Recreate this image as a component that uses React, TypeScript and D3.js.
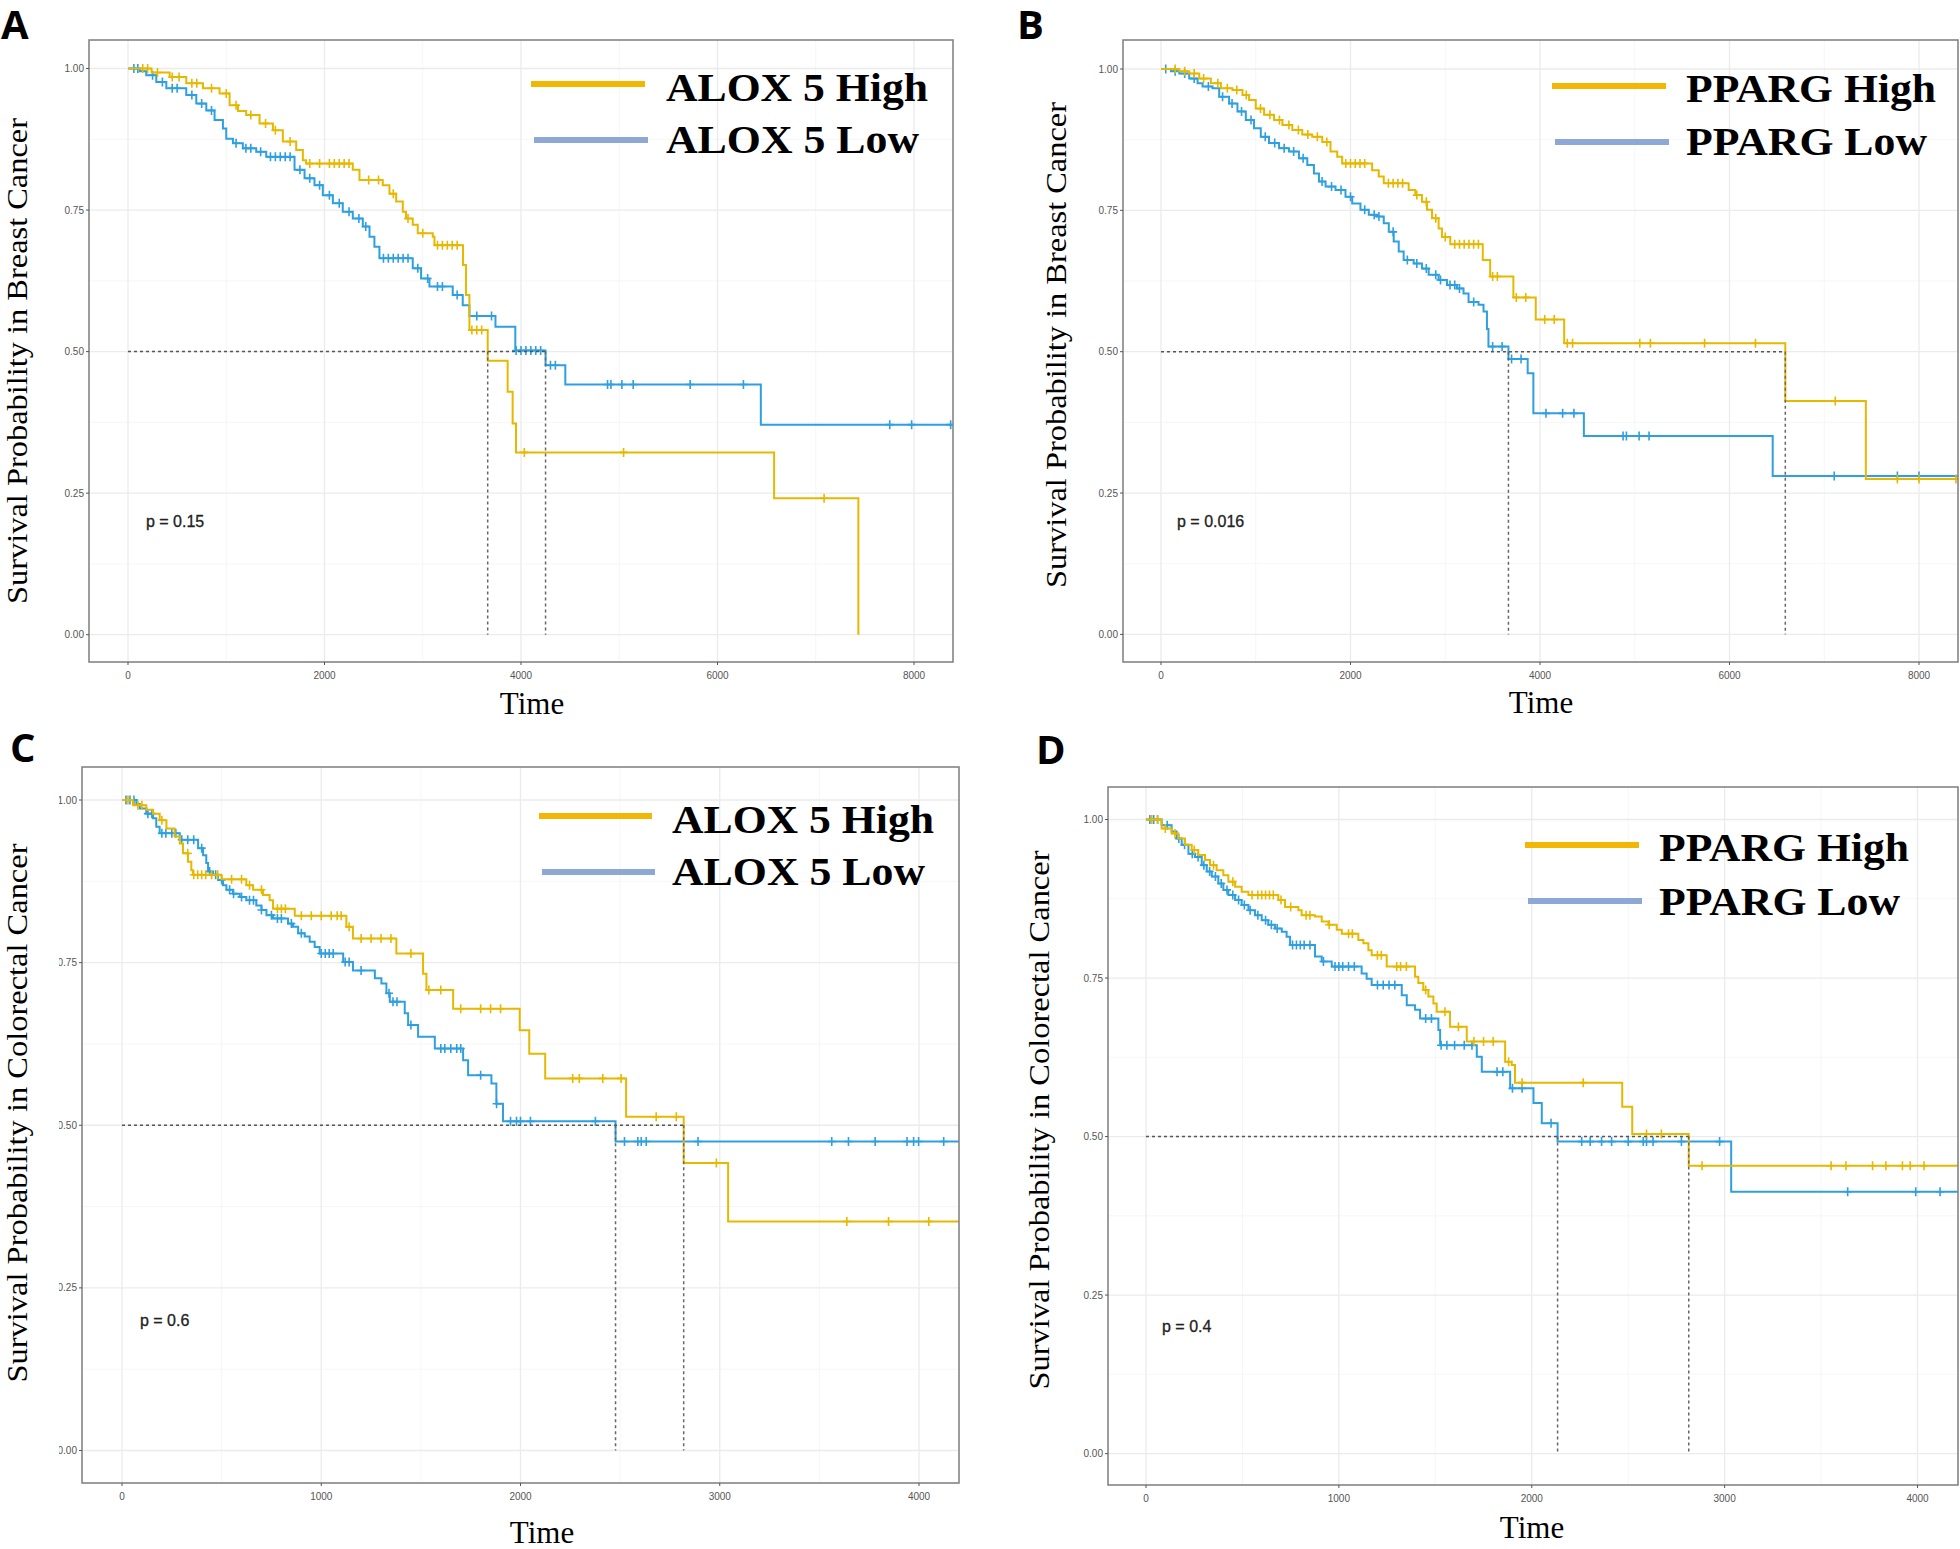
import React from 'react';
import * as d3 from 'd3';

type Step = [number, number];

// ---------- axis ticks ----------
const survTicks = [0, 0.25, 0.5, 0.75, 1];
const survTickLabels = ['0.00', '0.25', '0.50', '0.75', '1.00'];
const survMinor = [0.125, 0.375, 0.625, 0.875];
const breastTimeTicks = [0, 2000, 4000, 6000, 8000];
const breastTimeMinor = [1000, 3000, 5000, 7000];
const crcTimeTicks = [0, 1000, 2000, 3000, 4000];
const crcTimeMinor = [500, 1500, 2500, 3500];

// ---------- A: ALOX5, breast cancer ----------
const breastAloxHigh: Step[] = [[0,1],[240,0.993],[424,0.985],[593,0.974],[763,0.965],[932,0.956],[1034,0.935],[1120,0.925],[1203,0.918],[1339,0.903],[1475,0.891],[1576,0.871],[1712,0.856],[1780,0.838],[1813,0.832],[2288,0.821],[2356,0.803],[2593,0.794],[2661,0.779],[2729,0.765],[2797,0.747],[2830,0.735],[2898,0.724],[2949,0.709],[3102,0.703],[3119,0.688],[3410,0.653],[3440,0.6],[3475,0.538],[3661,0.484],[3864,0.429],[3915,0.373],[3949,0.322],[6576,0.241],[7434,0]];
const breastAloxHighCensor = [150,200,300,450,520,650,700,850,1000,1100,1250,1400,1500,1650,1850,1950,2050,2100,2150,2200,2250,2450,2550,2700,2850,3000,3150,3200,3250,3300,3350,3500,3550,3600,4034,5044,7085];
const breastAloxLow: Step[] = [[0,1],[120,0.995],[186,0.988],[288,0.976],[390,0.965],[593,0.953],[695,0.938],[797,0.926],[881,0.909],[966,0.894],[1000,0.876],[1068,0.868],[1169,0.859],[1305,0.853],[1407,0.844],[1695,0.821],[1797,0.806],[1898,0.794],[1983,0.776],[2085,0.762],[2186,0.747],[2288,0.735],[2390,0.721],[2458,0.703],[2508,0.685],[2559,0.665],[2898,0.647],[2983,0.629],[3068,0.615],[3305,0.6],[3407,0.582],[3475,0.563],[3740,0.544],[3942,0.502],[4250,0.476],[4451,0.442],[6441,0.371]];
const breastAloxLowCensor = [60,100,250,350,450,500,650,750,850,1100,1200,1250,1350,1450,1500,1550,1600,1650,1750,1850,1950,2050,2150,2250,2350,2420,2600,2650,2700,2750,2800,2850,2950,3050,3150,3200,3350,3550,3700,3950,4000,4050,4100,4150,4200,4300,4350,4881,4915,5027,5142,5722,6264,7753,7976,8373];

// ---------- B: PPARG, breast cancer ----------
const breastPpargHigh: Step[] = [[0,1],[193,0.996],[298,0.992],[404,0.983],[526,0.975],[632,0.966],[754,0.963],[860,0.954],[930,0.945],[1000,0.93],[1088,0.919],[1193,0.91],[1281,0.901],[1386,0.892],[1491,0.884],[1596,0.88],[1702,0.871],[1789,0.854],[1860,0.845],[1912,0.833],[2228,0.821],[2298,0.81],[2351,0.798],[2614,0.786],[2684,0.777],[2754,0.765],[2807,0.751],[2860,0.736],[2930,0.718],[2965,0.703],[3053,0.69],[3396,0.662],[3474,0.633],[3719,0.596],[3955,0.557],[4255,0.515],[6589,0.413],[7439,0.275]];
const breastPpargHighCensor = [150,250,350,450,600,700,800,900,1050,1150,1250,1350,1450,1550,1650,1750,1950,2000,2050,2100,2150,2400,2450,2500,2550,2700,2800,2900,3000,3100,3150,3200,3250,3300,3350,3500,3550,3750,3850,4050,4150,4288,4344,5053,5165,5737,6274,7116,7772,8000,8390];
const breastPpargLow: Step[] = [[0,1],[105,0.996],[193,0.992],[298,0.983],[386,0.975],[439,0.969],[544,0.966],[614,0.951],[719,0.939],[807,0.925],[895,0.91],[982,0.895],[1053,0.88],[1140,0.869],[1246,0.86],[1351,0.854],[1456,0.842],[1544,0.83],[1614,0.815],[1667,0.801],[1737,0.792],[1842,0.786],[1947,0.774],[2018,0.762],[2105,0.751],[2193,0.742],[2281,0.739],[2351,0.727],[2404,0.712],[2456,0.695],[2509,0.677],[2561,0.662],[2667,0.656],[2754,0.647],[2825,0.636],[2930,0.627],[3018,0.618],[3123,0.612],[3193,0.603],[3246,0.588],[3351,0.583],[3404,0.571],[3440,0.54],[3456,0.509],[3667,0.487],[3870,0.462],[3930,0.391],[4463,0.351],[6456,0.28]];
const breastPpargLowCensor = [50,150,250,350,500,650,750,850,950,1100,1200,1300,1400,1500,1700,1800,1900,2000,2150,2250,2300,2450,2600,2700,2800,2900,2950,3050,3100,3150,3300,3500,3600,3700,3800,4063,4239,4358,4877,4912,5046,5151,7105,7772,8000];

// ---------- C: ALOX5, colorectal cancer ----------
const crcAloxHigh: Step[] = [[0,1],[55,0.992],[122,0.985],[156,0.979],[189,0.969],[223,0.956],[264,0.944],[290,0.933],[306,0.918],[331,0.905],[348,0.892],[356,0.885],[500,0.878],[624,0.869],[658,0.862],[708,0.854],[741,0.846],[758,0.833],[867,0.822],[1126,0.805],[1159,0.787],[1377,0.764],[1511,0.733],[1528,0.708],[1662,0.679],[1996,0.646],[2044,0.61],[2124,0.572],[2530,0.513],[2819,0.442],[3042,0.352]];
const crcAloxHighCensor = [30,80,100,200,330,360,380,400,420,450,480,550,600,640,700,780,800,820,900,950,1000,1050,1080,1100,1140,1200,1250,1300,1350,1450,1540,1600,1700,1800,1850,1900,2262,2295,2413,2505,2681,2782,2983,3638,3847,4049];
const crcAloxLow: Step[] = [[0,1],[72,0.994],[89,0.987],[122,0.979],[156,0.972],[172,0.959],[189,0.949],[290,0.939],[382,0.926],[407,0.915],[423,0.903],[432,0.89],[457,0.885],[482,0.877],[507,0.869],[524,0.862],[557,0.856],[591,0.851],[624,0.846],[674,0.838],[700,0.831],[725,0.823],[758,0.818],[833,0.81],[858,0.805],[884,0.795],[917,0.79],[942,0.782],[967,0.774],[992,0.764],[1110,0.751],[1159,0.738],[1269,0.726],[1302,0.718],[1327,0.703],[1344,0.69],[1419,0.672],[1436,0.654],[1486,0.636],[1570,0.618],[1712,0.6],[1737,0.577],[1854,0.564],[1879,0.533],[1912,0.506],[2477,0.475]];
const crcAloxLowCensor = [20,40,60,130,150,200,220,250,270,300,330,360,400,440,470,500,540,560,600,640,660,700,750,780,800,850,900,1000,1020,1040,1060,1120,1140,1200,1340,1360,1380,1450,1600,1620,1650,1680,1700,1800,1880,1950,1980,2000,2050,2376,2522,2589,2606,2631,2891,3562,3646,3780,3940,3973,3998,4124];

// ---------- D: PPARG, colorectal cancer ----------
const crcPpargHigh: Step[] = [[0,1],[81,0.986],[133,0.978],[168,0.97],[202,0.96],[237,0.952],[271,0.944],[306,0.936],[332,0.928],[366,0.92],[401,0.912],[427,0.902],[462,0.894],[496,0.886],[531,0.881],[686,0.873],[721,0.862],[790,0.857],[807,0.849],[876,0.847],[911,0.839],[946,0.834],[989,0.826],[1015,0.82],[1101,0.81],[1127,0.805],[1153,0.794],[1170,0.786],[1248,0.768],[1395,0.752],[1412,0.742],[1438,0.731],[1464,0.721],[1490,0.71],[1507,0.697],[1576,0.673],[1663,0.65],[1862,0.618],[1896,0.613],[1913,0.585],[2469,0.547],[2521,0.504],[2814,0.454]];
const crcPpargHighCensor = [30,60,100,150,250,350,450,550,580,600,620,640,660,700,750,830,850,950,1050,1070,1200,1220,1300,1320,1350,1450,1550,1620,1700,1750,1800,1880,1950,2267,2595,2672,2883,3552,3629,3767,3836,3922,3962,4034];
const crcPpargLow: Step[] = [[0,1],[81,0.991],[133,0.981],[159,0.97],[185,0.96],[220,0.946],[254,0.941],[289,0.928],[315,0.918],[341,0.91],[375,0.899],[401,0.889],[427,0.881],[462,0.873],[496,0.865],[531,0.857],[565,0.849],[600,0.841],[634,0.834],[669,0.828],[704,0.823],[729,0.815],[747,0.802],[876,0.784],[911,0.776],[963,0.768],[1118,0.757],[1144,0.749],[1170,0.739],[1326,0.723],[1352,0.707],[1395,0.7],[1421,0.686],[1516,0.668],[1525,0.644],[1715,0.626],[1741,0.602],[1888,0.576],[2009,0.553],[2052,0.521],[2134,0.492],[3034,0.413]];
const crcPpargLowCensor = [20,40,60,110,170,200,240,270,300,330,360,390,420,450,480,510,540,580,620,650,680,760,780,800,820,850,920,980,1000,1020,1050,1080,1200,1230,1260,1290,1450,1480,1530,1560,1600,1650,1690,1820,1850,1900,1950,2100,2259,2303,2362,2414,2500,2578,2595,2629,2776,2974,3638,3991,4117];

// ---------- styles ----------
const HIGH_COLOR = '#E7B800';
const LOW_COLOR = '#2E9FDF';
const HIGH_LEGEND = '#F2B705';
const LOW_LEGEND = '#8EA8D6';

interface PanelCfg {
  label: string; labelX: number; labelY: number;
  box: { l: number; r: number; t: number; b: number };
  x0: number; xRefPx: number; xRef: number; y1: number; y0: number;
  ticks: number[]; minor: number[];
  high: Step[]; highEnd: number; highCensor: number[];
  low: Step[]; lowEnd: number; lowCensor: number[];
  highName: string; lowName: string; highLen: number; lowLen: number;
  legX1: number; legX2: number; legHighY: number; legLowY: number;
  legTextX: number; legHighBase: number; legLowBase: number;
  yTitle: string; yTitleX: number; yTitleY: number; yTitleLen: number;
  xTitleX: number; xTitleBase: number;
  pval: string; pvalT: number;
  tickClipX?: number;
}

const panels: PanelCfg[] = [
  {
    label: 'A', labelX: 1, labelY: 39,
    box: { l: 89, r: 953, t: 40, b: 662 },
    x0: 128, xRefPx: 914, xRef: 8000, y1: 68.5, y0: 634.7,
    ticks: breastTimeTicks, minor: breastTimeMinor,
    high: breastAloxHigh, highEnd: 7434, highCensor: breastAloxHighCensor,
    low: breastAloxLow, lowEnd: 8397, lowCensor: breastAloxLowCensor,
    highName: 'ALOX 5 High', lowName: 'ALOX 5 Low', highLen: 262, lowLen: 253,
    legX1: 531, legX2: 645, legHighY: 84, legLowY: 140,
    legTextX: 666, legHighBase: 101, legLowBase: 153,
    yTitle: 'Survival Probability in Breast Cancer', yTitleX: 16, yTitleY: 361, yTitleLen: 486,
    xTitleX: 532, xTitleBase: 714,
    pval: 'p = 0.15', pvalT: 183,
  },
  {
    label: 'B', labelX: 1017, labelY: 39,
    box: { l: 1123, r: 1958, t: 40, b: 662 },
    x0: 1161, xRefPx: 1919, xRef: 8000, y1: 69, y0: 634.4,
    ticks: breastTimeTicks, minor: breastTimeMinor,
    high: breastPpargHigh, highEnd: 8412, highCensor: breastPpargHighCensor,
    low: breastPpargLow, lowEnd: 8412, lowCensor: breastPpargLowCensor,
    highName: 'PPARG High', lowName: 'PPARG Low', highLen: 250, lowLen: 241,
    legX1: 1552, legX2: 1666, legHighY: 86, legLowY: 142,
    legTextX: 1686, legHighBase: 102, legLowBase: 155,
    yTitle: 'Survival Probability in Breast Cancer', yTitleX: 1055, yTitleY: 345, yTitleLen: 486,
    xTitleX: 1541, xTitleBase: 713,
    pval: 'p = 0.016', pvalT: 169,
  },
  {
    label: 'C', labelX: 10, labelY: 762,
    box: { l: 82, r: 959, t: 767, b: 1483 },
    x0: 122, xRefPx: 919, xRef: 4000, y1: 800, y0: 1450.5,
    ticks: crcTimeTicks, minor: crcTimeMinor,
    high: crcAloxHigh, highEnd: 4205, highCensor: crcAloxHighCensor,
    low: crcAloxLow, lowEnd: 4205, lowCensor: crcAloxLowCensor,
    highName: 'ALOX 5 High', lowName: 'ALOX 5 Low', highLen: 262, lowLen: 253,
    legX1: 539, legX2: 652, legHighY: 816, legLowY: 872,
    legTextX: 672, legHighBase: 833, legLowBase: 885,
    yTitle: 'Survival Probability in Colorectal Cancer', yTitleX: 16, yTitleY: 1113, yTitleLen: 539,
    xTitleX: 542, xTitleBase: 1543,
    pval: 'p = 0.6', pvalT: 90,
    tickClipX: 59,
  },
  {
    label: 'D', labelX: 1036, labelY: 764,
    box: { l: 1108, r: 1958, t: 787, b: 1485 },
    x0: 1146, xRefPx: 1917.5, xRef: 4000, y1: 819.5, y0: 1453.6,
    ticks: crcTimeTicks, minor: crcTimeMinor,
    high: crcPpargHigh, highEnd: 4210, highCensor: crcPpargHighCensor,
    low: crcPpargLow, lowEnd: 4210, lowCensor: crcPpargLowCensor,
    highName: 'PPARG High', lowName: 'PPARG Low', highLen: 250, lowLen: 241,
    legX1: 1525, legX2: 1639, legHighY: 845, legLowY: 901,
    legTextX: 1659, legHighBase: 861, legLowBase: 915,
    yTitle: 'Survival Probability in Colorectal Cancer', yTitleX: 1038, yTitleY: 1120, yTitleLen: 539,
    xTitleX: 1532, xTitleBase: 1538,
    pval: 'p = 0.4', pvalT: 83,
  },
];

function survAt(steps: Step[], t: number): number {
  let s = steps[0][1];
  for (const [ti, si] of steps) {
    if (ti <= t) s = si; else break;
  }
  return s;
}

function medianOf(steps: Step[]): number | null {
  for (const [t, s] of steps) if (s <= 0.5) return t;
  return null;
}

function withEnd(steps: Step[], end: number): Step[] {
  const last = steps[steps.length - 1];
  if (end > last[0]) return [...steps, [end, last[1]]];
  return steps;
}

const Panel: React.FC<{ cfg: PanelCfg; idx: number }> = ({ cfg, idx }) => {
  const x = d3.scaleLinear().domain([0, cfg.xRef]).range([cfg.x0, cfg.xRefPx]);
  const y = d3.scaleLinear().domain([0, 1]).range([cfg.y0, cfg.y1]);
  const line = d3.line<Step>().x(d => x(d[0])).y(d => y(d[1])).curve(d3.curveStepAfter);
  const { box } = cfg;
  const clipId = `clip-${idx}`;
  const tickClipId = `tclip-${idx}`;
  const medHigh = medianOf(cfg.high);
  const medLow = medianOf(cfg.low);
  const medMax = Math.max(medHigh ?? 0, medLow ?? 0);
  const visibleX = (v: number) => x(v) >= box.l && x(v) <= box.r;

  const curve = (steps: Step[], end: number, censor: number[], color: string) => (
    <g>
      <path d={line(withEnd(steps, end)) || ''} fill="none" stroke={color} strokeWidth={2} />
      {censor.map((t, i) => {
        const cx = x(t), cy = y(survAt(steps, t));
        return <path key={i} d={`M${cx - 4},${cy}h8M${cx},${cy - 4.5}v9`} stroke={color} strokeWidth={1.6} />;
      })}
    </g>
  );

  return (
    <g>
      <defs>
        <clipPath id={clipId}><rect x={box.l} y={box.t} width={box.r - box.l} height={box.b - box.t} /></clipPath>
        <clipPath id={tickClipId}><rect x={cfg.tickClipX ?? 0} y={box.t - 20} width={box.l - (cfg.tickClipX ?? 0)} height={box.b - box.t + 40} /></clipPath>
      </defs>
      {/* panel label */}
      <text x={cfg.labelX} y={cfg.labelY} fontFamily="'Open Sans', 'DejaVu Sans', sans-serif" fontWeight={700} fontSize={40} fill="#000">{cfg.label}</text>
      {/* plot background & grid */}
      <rect x={box.l} y={box.t} width={box.r - box.l} height={box.b - box.t} fill="#fff" />
      <g clipPath={`url(#${clipId})`}>
        {cfg.minor.filter(visibleX).map(v => <line key={'mx' + v} x1={x(v)} x2={x(v)} y1={box.t} y2={box.b} stroke="#F4F4F4" strokeWidth={0.8} />)}
        {survMinor.map(v => <line key={'my' + v} x1={box.l} x2={box.r} y1={y(v)} y2={y(v)} stroke="#F4F4F4" strokeWidth={0.8} />)}
        {cfg.ticks.filter(visibleX).map(v => <line key={'gx' + v} x1={x(v)} x2={x(v)} y1={box.t} y2={box.b} stroke="#EBEBEB" strokeWidth={1.3} />)}
        {survTicks.map(v => <line key={'gy' + v} x1={box.l} x2={box.r} y1={y(v)} y2={y(v)} stroke="#EBEBEB" strokeWidth={1.3} />)}
        {curve(cfg.low, cfg.lowEnd, cfg.lowCensor, LOW_COLOR)}
        {curve(cfg.high, cfg.highEnd, cfg.highCensor, HIGH_COLOR)}
        {/* median lines */}
        <line x1={x(0)} x2={x(medMax)} y1={y(0.5)} y2={y(0.5)} stroke="#555" strokeWidth={1.5} strokeDasharray="3,3" />
        {[medHigh, medLow].filter(v => v !== null).map((v, i) => (
          <line key={'med' + i} x1={x(v as number)} x2={x(v as number)} y1={y(0.5)} y2={y(0)} stroke="#666" strokeWidth={1.5} strokeDasharray="3,3" />
        ))}
        {/* p-value */}
        <text x={x(cfg.pvalT)} y={y(0.2)} dy="0.35em" fontFamily="'Liberation Sans', Arial, sans-serif" fontSize={16} fill="#222" stroke="#222" strokeWidth={0.3}>{cfg.pval}</text>
      </g>
      {/* border */}
      <rect x={box.l} y={box.t} width={box.r - box.l} height={box.b - box.t} fill="none" stroke="#858585" strokeWidth={1.6} />
      {/* ticks */}
      {cfg.ticks.filter(visibleX).map(v => (
        <g key={'xt' + v}>
          <line x1={x(v)} x2={x(v)} y1={box.b} y2={box.b + 3} stroke="#555" strokeWidth={1} />
          <text x={x(v)} y={box.b + 17} textAnchor="middle" fontFamily="'Liberation Sans', Arial, sans-serif" fontSize={10} fill="#555">{v}</text>
        </g>
      ))}
      <g clipPath={`url(#${tickClipId})`}>
        {survTicks.map((v, i) => (
          <g key={'yt' + v}>
            <line x1={box.l - 3} x2={box.l} y1={y(v)} y2={y(v)} stroke="#555" strokeWidth={1} />
            <text x={box.l - 5} y={y(v)} dy="0.35em" textAnchor="end" fontFamily="'Liberation Sans', Arial, sans-serif" fontSize={10} fill="#555">{survTickLabels[i]}</text>
          </g>
        ))}
      </g>
      {/* axis titles */}
      <text x={cfg.xTitleX} y={cfg.xTitleBase} textAnchor="middle" fontFamily="'Liberation Serif', 'Times New Roman', serif" fontSize={31} fill="#000">Time</text>
      <text transform={`translate(${cfg.yTitleX},${cfg.yTitleY}) rotate(-90)`} textAnchor="middle" dominantBaseline="central" fontFamily="'Liberation Serif', 'Times New Roman', serif" fontSize={30} fill="#000" textLength={cfg.yTitleLen} lengthAdjust="spacingAndGlyphs">{cfg.yTitle}</text>
      {/* legend */}
      <line x1={cfg.legX1} x2={cfg.legX2} y1={cfg.legHighY} y2={cfg.legHighY} stroke={HIGH_LEGEND} strokeWidth={6} />
      <line x1={cfg.legX1 + 3} x2={cfg.legX2 + 3} y1={cfg.legLowY} y2={cfg.legLowY} stroke={LOW_LEGEND} strokeWidth={6} />
      <text x={cfg.legTextX} y={cfg.legHighBase} fontFamily="'Liberation Serif', 'Times New Roman', serif" fontWeight={700} fontSize={39} fill="#000" textLength={cfg.highLen} lengthAdjust="spacingAndGlyphs">{cfg.highName}</text>
      <text x={cfg.legTextX} y={cfg.legLowBase} fontFamily="'Liberation Serif', 'Times New Roman', serif" fontWeight={700} fontSize={39} fill="#000" textLength={cfg.lowLen} lengthAdjust="spacingAndGlyphs">{cfg.lowName}</text>
    </g>
  );
};

export default function App() {
  return (
    <svg width={1960} height={1549} viewBox="0 0 1960 1549" style={{ position: 'absolute', left: 0, top: 0, background: '#fff' }}>
      <rect x={0} y={0} width={1960} height={1549} fill="#fff" />
      {panels.map((p, i) => <Panel key={p.label} cfg={p} idx={i} />)}
    </svg>
  );
}
